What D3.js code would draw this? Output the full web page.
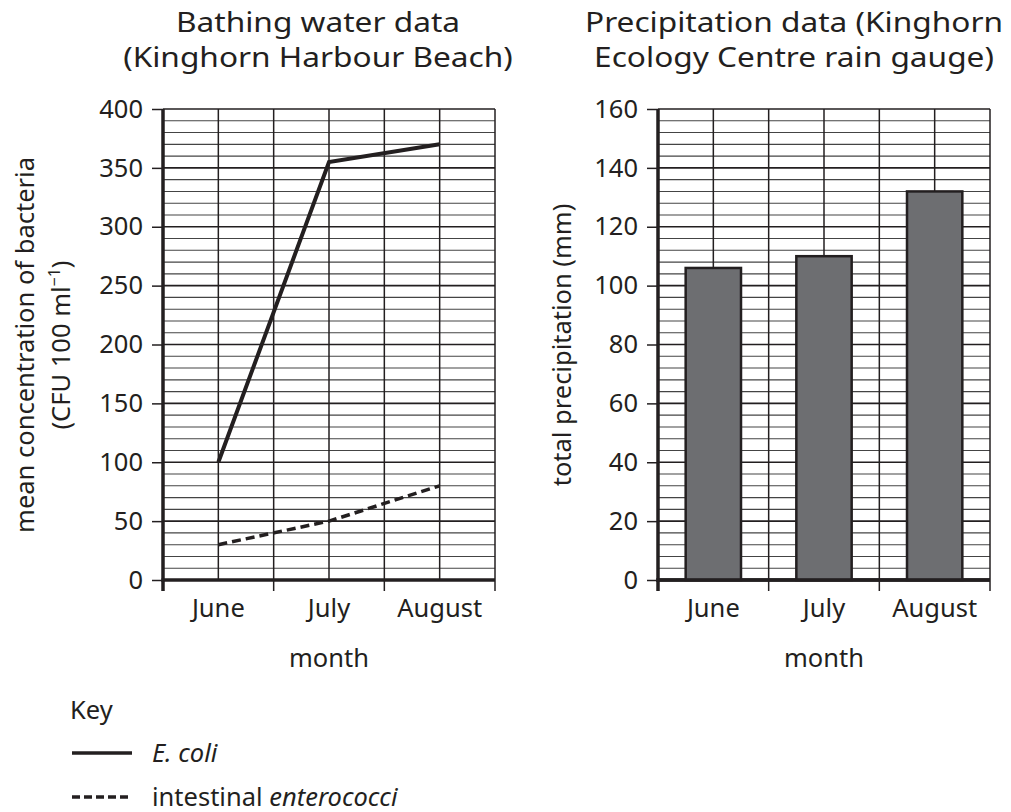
<!DOCTYPE html>
<html lang="en">
<head>
    <meta charset="UTF-8">
    <title>Bathing water and precipitation data</title>
    <script src="https://d3js.org/d3.v7.min.js"></script>
    <style>
        body {
            margin: 0;
            background: #fff;
        }
        svg text {
            font-family: "Noto Sans", "Open Sans", sans-serif;
            fill: #231f20;
        }
        .tick text {
            font-size: 25.5px;
        }
        .title {
            font-size: 27px;
        }
        .label {
            font-size: 25.5px;
        }
    </style>
</head>
<body>
    <svg width="1011" height="812"></svg>

    <script>
        // values
        const months = ["June", "July", "August"];
        const ecoli = [100, 355, 370];
        const enterococci = [30, 50, 80];
        const precipitation = [106, 110, 132];

        const svg = d3.select("svg");
        const ink = "#231f20";

        const plotTop = 109, plotBottom = 580;

        // draws the grid, axes and axis titles for one panel, returns scales
        function panel(left, right, yMax, yStep, yMinor) {
            const g = svg.append("g");
            const x = d3.scaleBand().domain(months).range([left, right]);
            const y = d3.scaleLinear().domain([0, yMax]).range([plotBottom, plotTop]);
            const bw = x.bandwidth();

            // horizontal grid
            g.selectAll(".hgrid")
                .data(d3.range(yMinor, yMax + 1, yMinor))
                .enter().append("line")
                .attr("x1", left).attr("x2", right)
                .attr("y1", d => y(d)).attr("y2", d => y(d))
                .attr("stroke", d => d % yStep === 0 ? ink : "#444")
                .attr("stroke-width", d => d % yStep === 0 ? 1.6 : 1.1);

            // vertical grid: band edges and band centres
            const vx = [];
            months.forEach(m => { vx.push(x(m) + bw / 2); vx.push(x(m) + bw); });
            g.selectAll(".vgrid")
                .data(vx)
                .enter().append("line")
                .attr("x1", d => d).attr("x2", d => d)
                .attr("y1", plotTop).attr("y2", plotBottom)
                .attr("stroke", ink)
                .attr("stroke-width", 1.5);

            // y axis
            const yAxis = g.append("g")
                .attr("transform", `translate(${left},0)`)
                .call(d3.axisLeft(y).tickValues(d3.range(0, yMax + 1, yStep)).tickSize(11).tickPadding(9));
            yAxis.select(".domain").attr("stroke", ink).attr("stroke-width", 3.5)
                .attr("d", `M0,${plotTop}V${plotBottom + 1.5}`);
            yAxis.selectAll(".tick line").attr("stroke", ink).attr("stroke-width", 1.5);
            yAxis.selectAll(".tick text").attr("fill", ink).style("font-family", "'Noto Sans', sans-serif");

            // x axis
            const xAxis = g.append("g")
                .attr("transform", `translate(0,${plotBottom})`)
                .call(d3.axisBottom(x).tickSize(0).tickPadding(19));
            xAxis.select(".domain").attr("stroke", ink).attr("stroke-width", 3.5)
                .attr("d", `M${left - 1.5},0H${right}`);
            xAxis.selectAll(".tick text").attr("fill", ink).style("font-family", "'Noto Sans', sans-serif");

            // ticks below the axis at band edges
            g.selectAll(".xtick")
                .data([left].concat(months.map(m => x(m) + bw)))
                .enter().append("line")
                .attr("x1", d => d).attr("x2", d => d)
                .attr("y1", plotBottom).attr("y2", plotBottom + 11)
                .attr("stroke", ink)
                .attr("stroke-width", d => d === left ? 3.5 : 1.5);

            g.append("text")
                .attr("class", "label")
                .attr("x", (left + right) / 2)
                .attr("y", 667)
                .attr("text-anchor", "middle")
                .text("month");

            return { x, y, bw };
        }

        // ---- left panel: bathing water ----
        const L = panel(163, 495, 400, 50, 10);

        const line = d3.line()
            .x((d, i) => L.x(months[i]) + L.bw / 2)
            .y(d => L.y(d));

        svg.append("path")
            .attr("d", line(ecoli))
            .attr("fill", "none")
            .attr("stroke", ink)
            .attr("stroke-width", 4)
            .attr("stroke-linejoin", "miter");

        svg.append("path")
            .attr("d", line(enterococci))
            .attr("fill", "none")
            .attr("stroke", ink)
            .attr("stroke-width", 3.5)
            .attr("stroke-dasharray", "9,5");

        // ---- right panel: precipitation ----
        const R = panel(658, 990, 160, 20, 4);

        svg.selectAll(".bar")
            .data(precipitation)
            .enter().append("rect")
            .attr("x", (d, i) => R.x(months[i]) + R.bw / 4)
            .attr("width", R.bw / 2)
            .attr("y", d => R.y(d))
            .attr("height", d => R.y(0) - R.y(d))
            .attr("fill", "#6d6e71")
            .attr("stroke", ink)
            .attr("stroke-width", 2.5);

        // redraw axis line on top of bars
        svg.append("line")
            .attr("x1", 656.5).attr("x2", 990)
            .attr("y1", plotBottom).attr("y2", plotBottom)
            .attr("stroke", ink).attr("stroke-width", 3.5);

        // ---- titles (a narrow face, so squeeze all by one common factor) ----
        const titles = [];
        function title(cx, lines) {
            lines.forEach((t, i) => {
                titles.push(svg.append("text")
                    .attr("class", "title")
                    .attr("x", cx)
                    .attr("y", 32 + i * 35)
                    .attr("text-anchor", "middle")
                    .text(t));
            });
        }
        title(318, ["Bathing water data", "(Kinghorn Harbour Beach)"]);
        title(794, ["Precipitation data (Kinghorn", "Ecology Centre rain gauge)"]);
        const squeeze = 418 / titles[2].node().getComputedTextLength();
        titles.forEach(t => {
            t.attr("textLength", t.node().getComputedTextLength() * squeeze)
                .attr("lengthAdjust", "spacingAndGlyphs");
        });

        // ---- y axis titles ----
        svg.append("text")
            .attr("class", "label")
            .attr("transform", "translate(34,345) rotate(-90)")
            .attr("text-anchor", "middle")
            .text("mean concentration of bacteria");

        const ly2 = svg.append("text")
            .attr("class", "label")
            .attr("transform", "translate(70,345) rotate(-90)")
            .attr("text-anchor", "middle");
        ly2.append("tspan").text("(CFU 100 ml");
        ly2.append("tspan").attr("dy", -10).style("font-size", "16px").text("\u22121");
        ly2.append("tspan").attr("dy", 10).text(")");

        svg.append("text")
            .attr("class", "label")
            .attr("transform", "translate(571,345) rotate(-90)")
            .attr("text-anchor", "middle")
            .text("total precipitation (mm)");

        // ---- key ----
        svg.append("text").attr("class", "label").attr("x", 70).attr("y", 719).text("Key");

        svg.append("line")
            .attr("x1", 72).attr("x2", 132).attr("y1", 753).attr("y2", 753)
            .attr("stroke", ink).attr("stroke-width", 3.5);
        svg.append("text").attr("class", "label").attr("x", 152).attr("y", 762)
            .style("font-style", "italic").text("E. coli");

        svg.append("line")
            .attr("x1", 72).attr("x2", 132).attr("y1", 797).attr("y2", 797)
            .attr("stroke", ink).attr("stroke-width", 3.5)
            .attr("stroke-dasharray", "8,4");
        const k2 = svg.append("text").attr("class", "label").attr("x", 152).attr("y", 806);
        k2.append("tspan").text("intestinal ");
        k2.append("tspan").style("font-style", "italic").text("enterococci");
    </script>
</body>
</html>
